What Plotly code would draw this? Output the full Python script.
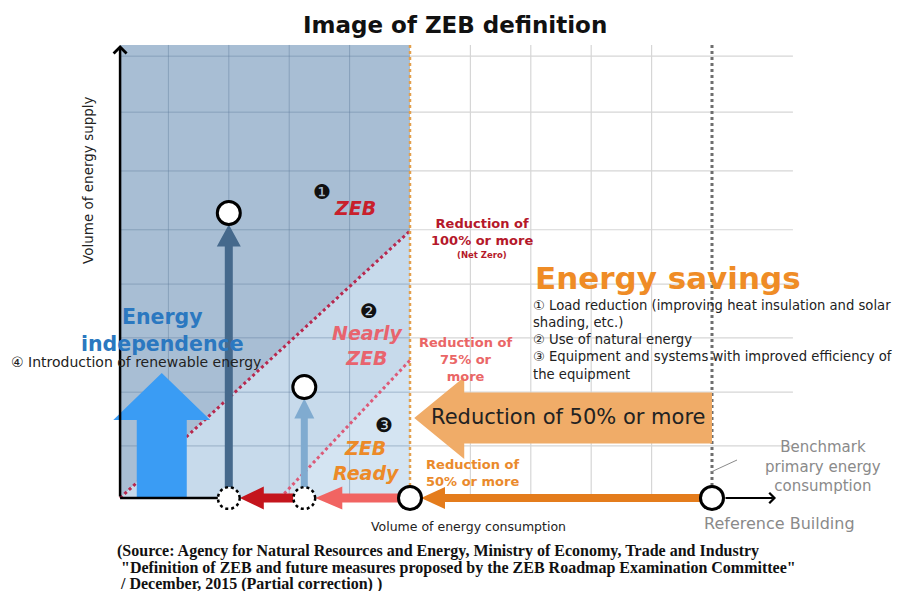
import numpy as np
import plotly.graph_objects as go

# ---------------- data ----------------
# x: volume of energy consumption (% of the reference building)
# y: volume of energy supply (same relative units)
origin_x = 2
reference_x = 100
zeb_ready_x = 50
nearly_zeb_x = 32.5
zeb_x = 20
zeb_supply = 50.9
nearly_zeb_supply = 19.8
top_y = 80.9
grid_x_blue = [10, 20, 30, 40]
grid_x_white = [60, 70, 80, 90]
grid_y = [9.3, 18.9, 28.6, 38.2, 47.9, 58.4, 68.9, 78.9]
grid_right_end = 113.4
net_zero_x = [2, 50]
net_zero_y = [0, 47.7]
red75_x = [28.5, 50]
red75_y = [0, 24.6]
renewable_x = 8.9
renewable_supply = 22.3
saving_arrow_y = 14.3
saving_arrow_tip = 50.7
axis_arrow_end = 110.6

title = "Image of ZEB definition"
savings_items = ["\u2460 Load reduction (improving heat insulation and solar",
                 "shading, etc.)",
                 "\u2461 Use of natural energy",
                 "\u2462 Equipment and systems with improved efficiency of",
                 "the equipment"]
source_lines = ["(Source: Agency for Natural Resources and Energy, Ministry of Economy, Trade and Industry",
                " \"Definition of ZEB and future measures proposed by the ZEB Roadmap Examination Committee\"",
                " / December, 2015 (Partial correction) )"]

# ---------------- scale helpers ----------------
W, H = 909, 591
PAGE_OFF = 8            # default page margin around the figure
PXX, X0 = 6.04, 108.0   # px per x unit, page px of x=0
PXY, Y0 = 5.6, 498.0    # px per y unit, page px of y=0
xr = [(PAGE_OFF - X0) / PXX, (W + PAGE_OFF - X0) / PXX]
yr = [(Y0 - H - PAGE_OFF) / PXY, (Y0 - PAGE_OFF) / PXY]


def dx(px):
    return (px - X0) / PXX


def dy(py):
    return (Y0 - py) / PXY


fig = go.Figure()


def add(xs, ys, **kw):
    fig.add_trace(go.Scatter(x=xs, y=ys, hoverinfo="skip", showlegend=False, **kw))


def poly(xs, ys, color):
    add(xs, ys, mode="lines", fill="toself", fillcolor=color, line=dict(width=0, color=color))


def arrow(x0, y0, x1, y1, shaft, head_w, head_l, color):
    p0 = np.array([x0 * PXX, y0 * PXY])
    p1 = np.array([x1 * PXX, y1 * PXY])
    d = p1 - p0
    u = d / np.linalg.norm(d)
    n = np.array([-u[1], u[0]])
    b = p1 - u * head_l
    pts = [p0 + n * shaft / 2, b + n * shaft / 2, b + n * head_w / 2, p1,
           b - n * head_w / 2, b - n * shaft / 2, p0 - n * shaft / 2]
    poly([p[0] / PXX for p in pts], [p[1] / PXY for p in pts], color)


def ring(cx, cy, r_px, dotted=True):
    t = np.linspace(0, 2 * np.pi, 60)
    add(cx + r_px * np.cos(t) / PXX, cy + r_px * np.sin(t) / PXY, mode="lines",
        fill="toself", fillcolor="white",
        line=dict(color="black", width=2.5, dash="dot" if dotted else "solid"))


# regions
poly([origin_x, origin_x, zeb_ready_x, zeb_ready_x], [0, top_y, top_y, net_zero_y[1]], "#a8bed4")
poly([origin_x, zeb_ready_x, zeb_ready_x], [0, net_zero_y[1], 0], "#c7daeb")
poly([red75_x[0], zeb_ready_x, zeb_ready_x], [0, red75_y[1], 0], "#d4e4f2")

# grid lines
gx, gy = [], []
for g in grid_x_blue:
    gx += [g, g, None]; gy += [0, top_y, None]
for g in grid_y:
    gx += [origin_x, zeb_ready_x, None]; gy += [g, g, None]
add(gx, gy, mode="lines", line=dict(color="rgba(95,125,155,0.45)", width=1))
gx, gy = [], []
for g in grid_x_white:
    gx += [g, g, None]; gy += [0, top_y, None]
for g in grid_y:
    gx += [zeb_ready_x, grid_right_end, None]; gy += [g, g, None]
add(gx, gy, mode="lines", line=dict(color="#d6d6d6", width=1.2))

# dotted definition lines
add(net_zero_x, net_zero_y, mode="lines", line=dict(color="#b8284e", width=3, dash="dot"))
add(red75_x, red75_y, mode="lines", line=dict(color="#dc5a78", width=3, dash="dot"))
add([zeb_ready_x, zeb_ready_x], [0, top_y], mode="lines", line=dict(color="#e3a04c", width=2.5, dash="dot"))
add([reference_x, reference_x], [0, top_y], mode="lines", line=dict(color="#6e6e6e", width=3, dash="dot"))

# big arrows
arrow(renewable_x, 0, renewable_x, renewable_supply, 50, 97, 47, "#3a9cf4")
arrow(reference_x, saving_arrow_y, saving_arrow_tip, saving_arrow_y, 51, 82, 50, "#f0ac68")

# axis base line
add([origin_x, zeb_x], [0, 0], mode="lines", line=dict(color="black", width=2.5))
# leader line for benchmark
add([dx(711), dx(737)], [dy(472), dy(460)], mode="lines", line=dict(color="#8a8a8a", width=1))

# supply arrows
arrow(zeb_x, 0, zeb_x, zeb_supply - 11.5 / PXY, 8, 24, 22, "#45698c")
arrow(nearly_zeb_x, 0, nearly_zeb_x, nearly_zeb_supply - 11.5 / PXY, 7, 20, 20, "#80abd0")
# reduction arrows along the consumption axis
arrow(nearly_zeb_x - 11 / PXX, 0, zeb_x + 11 / PXX, 0, 9, 23, 24, "#c4151d")
arrow(zeb_ready_x - 11 / PXX, 0, nearly_zeb_x + 11 / PXX, 0, 9, 23, 27, "#f16462")
arrow(reference_x - 12 / PXX, 0, zeb_ready_x + 11 / PXX, 0, 8, 22, 24, "#e47c1c")

# circles
ring(zeb_x, 0, 11)
ring(nearly_zeb_x, 0, 11)
add([zeb_x, nearly_zeb_x, zeb_ready_x, reference_x], [zeb_supply, nearly_zeb_supply, 0, 0],
    mode="markers", marker=dict(size=23, color="white", line=dict(color="black", width=3)))

ann = []
# y axis arrow
ann.append(dict(x=origin_x, y=top_y, ax=origin_x, ay=0, xref="x", yref="y", axref="x", ayref="y",
                showarrow=True, arrowhead=4, arrowsize=1, arrowwidth=2.5, arrowcolor="black", text=""))
# x axis continuation arrow
ann.append(dict(x=axis_arrow_end, y=0, ax=reference_x + 12 / PXX, ay=0, xref="x", yref="y",
                axref="x", ayref="y", showarrow=True, arrowhead=4, arrowsize=1, arrowwidth=2,
                arrowcolor="black", text=""))

BODY = "DejaVu Sans, Open Sans"


def txt(px, py, text, size, color="#222", xanchor="center", family=BODY, angle=0, align="center"):
    ann.append(dict(x=dx(px), y=dy(py), xref="x", yref="y", text=text, showarrow=False,
                    xanchor=xanchor, yanchor="middle", align=align, textangle=angle,
                    font=dict(size=size, color=color, family=family)))


txt(455, 25, "<b>%s</b>" % title, 23, "#111")
txt(88, 180, "Volume of energy supply", 13.5, "#222", angle=-90)
txt(322, 192, "\u2776", 20, "#111", family="DejaVu Sans")
txt(355, 208, "<b><i>ZEB</i></b>", 19, "#c8202c")
txt(482, 232, "<b>Reduction of<br>100% or more</b>", 13, "#b5182a")
txt(482, 255, "<b>(Net Zero)</b>", 8.5, "#b5182a")
txt(533, 278, "<b>Energy savings</b>", 31, "#ef8c26", xanchor="left")
txt(531, 340, "<br>".join(savings_items), 13.2, "#222", xanchor="left", align="left")
txt(369, 311, "\u2777", 20, "#111", family="DejaVu Sans")
txt(367, 345, "<b><i>Nearly<br>ZEB</i></b>", 19, "#e8646e")
txt(465, 359, "<b>Reduction of<br>75% or<br>more</b>", 13, "#ea6666")
txt(162, 330, "<b>Energy<br>independence</b>", 20.5, "#2b78c0")
txt(9, 362, "\u2463 Introduction of renewable energy", 14, "#222", xanchor="left")
txt(384, 425, "\u2778", 20, "#111", family="DejaVu Sans")
txt(366, 460, "<b><i>ZEB<br>Ready</i></b>", 19, "#ec8a28")
txt(568, 417, "Reduction of 50% or more", 21, "#222")
txt(472, 473, "<b>Reduction of<br>50% or more</b>", 13, "#ea8a2c")
txt(823, 466, "Benchmark<br>primary energy<br>consumption", 15, "#8a8a8a")
txt(468, 526, "Volume of energy consumption", 12.5, "#222")
txt(779, 523, "Reference Building", 16, "#8a8a8a")
for i, line in enumerate(source_lines):
    txt(115, 551 + 16.5 * i, "<b>%s</b>" % line, 16, "#111", xanchor="left",
        family="Liberation Serif, DejaVu Serif", align="left")

fig.update_layout(
    width=W, height=H, margin=dict(l=0, r=0, t=0, b=0),
    paper_bgcolor="white", plot_bgcolor="white",
    xaxis=dict(range=xr, visible=False, fixedrange=True),
    yaxis=dict(range=yr, visible=False, fixedrange=True),
    annotations=ann, showlegend=False,
)
fig.write_html("out.html")
